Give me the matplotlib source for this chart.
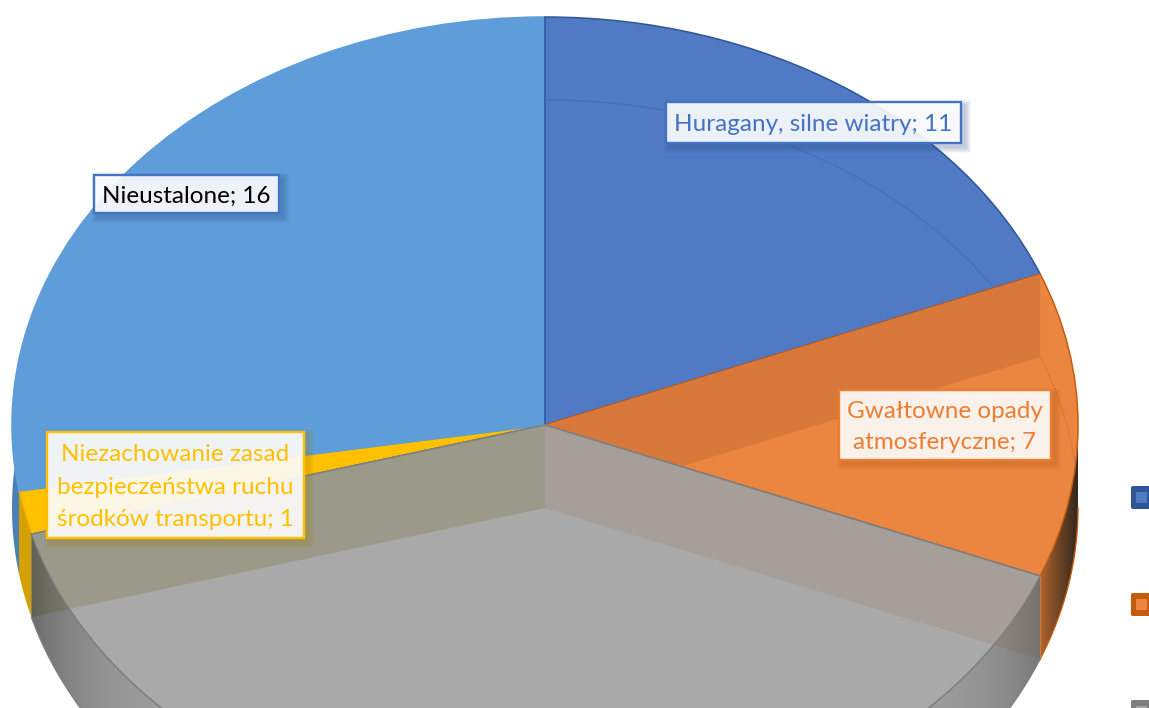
import numpy as np
import matplotlib
matplotlib.use("Agg")
import matplotlib.pyplot as plt
from matplotlib.patches import Polygon, Rectangle, FancyBboxPatch
from matplotlib.colors import to_rgb

# ---- data
categories = ["Huragany, silne wiatry", "Gwałtowne opady atmosferyczne", "Inne",
              "Niezachowanie zasad bezpieczeństwa ruchu środków transportu", "Nieustalone"]
values = [11, 7, 23, 1, 16]
face_colors = ["#507BC4", "#EA863F", "#A9A9A9", "#FFC000", "#5E9DD9"]
edge_colors = ["#2F5597", "#C55A11", "#7F7F7F", "#E0A800", "#5E9DD9"]
face_order = [3.1, 3.2, 3.3, 3.0, 3.0]

label_texts = ["Huragany, silne wiatry; 11", "Gwałtowne opady\natmosferyczne; 7",
               "Niezachowanie zasad\nbezpieczeństwa ruchu\nśrodków transportu; 1", "Nieustalone; 16"]
label_colors = ["#4472C4", "#ED7D31", "#FFC000", "#000000"]
label_edges = ["#4472C4", "#ED7D31", "#FFC000", "#4472C4"]
label_shadows = ["#2A4A85", "#A8561E", "#A88000", "#2A4A85"]
label_spacing = [1.0, 1.58, 1.68, 1.0]
label_boxes = [(666, 102, 961, 143), (839, 390, 1051, 460), (47, 432, 304, 538), (94, 175, 279, 213)]

W, H = 1149, 708
CX, CY, RX, RY = 545.0, 425.0, 533.0, 408.0
DEPTH = 83.0 / RY

fig = plt.figure(figsize=(W / 100, H / 100), dpi=100)
ax = fig.add_axes([0, 0, 1, 1])
wedges, _ = ax.pie(values, startangle=90, counterclock=False, radius=1, colors=face_colors,
                   wedgeprops=dict(linewidth=1.1))
for w, e, z in zip(wedges, edge_colors, face_order):
    w.set_edgecolor(e)
    w.set_zorder(z)
XLIM = (-CX / RX, (W - CX) / RX)
YLIM = ((CY - H) / RY, CY / RY)

# slice boundaries, clockwise from 12 o'clock
bounds = np.concatenate([[0], np.cumsum(values)]) / np.sum(values) * 360.0
b1, b2, b3, b4 = bounds[1], bounds[2], bounds[3], bounds[4]


def rim(t1, t2, drop=0.0, n=200):
    t = np.radians(np.linspace(t1, t2, n))
    return np.column_stack([np.sin(t), np.cos(t) - drop])


def band(t1, t2):
    return np.vstack([rim(t1, t2), rim(t1, t2, DEPTH)[::-1]])


def inner(t):
    p = rim(t, t, n=1)
    return np.vstack([[[0, 0]], p, p - [0, DEPTH], [[0, -DEPTH]]])


xs = np.linspace(XLIM[0], XLIM[1], W)[None, :]


def gradient(rgba, clip_xy, z):
    im = ax.imshow(rgba, extent=(XLIM[0], XLIM[1], YLIM[0], YLIM[1]), aspect="auto",
                   interpolation="bilinear", zorder=z)
    im.set_clip_path(Polygon(clip_xy, closed=True, transform=ax.transData))


# outer walls behind the faces
ax.add_patch(Polygon(band(b4, 300), closed=True, fc="#4A7FB5", ec="none", zorder=2))
ax.add_patch(Polygon(band(b3, b4), closed=True, fc="#D4A000", ec="none", zorder=2.1))

c0, c1 = np.array(to_rgb("#B5682C")), np.array(to_rgb("#33281E"))
edge_x = np.sin(np.radians(180 - b2))
f = np.clip((np.abs(xs) - edge_x) / (1 - edge_x), 0, 1) ** 0.9
orange_rgba = np.dstack([c0[i] + (c1[i] - c0[i]) * f for i in range(3)] + [np.ones_like(xs)])
gradient(orange_rgba, band(90, b2), 2.2)
ax.plot(*rim(90, b2, DEPTH).T, color="#C55A11", lw=1, zorder=2.3)
p = rim(b2, b2, n=1)[0]
ax.plot([p[0], p[0]], [p[1], p[1] - DEPTH], color="#D5752E", lw=1, zorder=2.3)

# walls seen through the translucent faces
back = Polygon(inner(b1), closed=True, fc="#D8783A", ec="none", zorder=3.25)
ax.add_patch(back)
back.set_clip_path(wedges[1])
blue_arc, = ax.plot(*rim(0, b1, DEPTH).T, color="#4470B8", lw=1, zorder=3.15)
blue_arc.set_clip_path(wedges[0])
orange_arc, = ax.plot(*rim(b1, b2, DEPTH).T, color="#DC7A38", lw=1, zorder=3.26)
orange_arc.set_clip_path(wedges[1])

# gray slice: base band, inner walls, shaded outer wall
ax.add_patch(Polygon(band(b2, b3), closed=True, fc="#A9A9A9", ec="none", zorder=3.3))
ax.add_patch(Polygon(inner(b2), closed=True, fc="#A69E98", ec="none", zorder=3.4))
ax.add_patch(Polygon(inner(b3), closed=True, fc="#9B9A8A", ec="none", zorder=3.4))
alpha = 0.04 + 0.45 * np.abs(xs) ** 8
gradient(np.dstack([np.zeros_like(xs)] * 3 + [alpha]), band(b2, b3), 3.5)
ax.plot(*rim(b2, b3).T, color="#7F7F7F", lw=1, zorder=3.6)
ax.plot(*rim(b2, b3, DEPTH).T, color="#7F7F7F", lw=1, zorder=3.6)
for b in (b2, b3):
    ax.plot(*np.vstack([[0, 0], rim(b, b, n=1)]).T, color="#7F7F7F", lw=1.1, zorder=3.6)

ax.set_aspect("auto")
ax.set_xlim(XLIM)
ax.set_ylim(YLIM)
ax.axis("off")

# ---- overlay in image pixels: labels and legend swatches
ov = fig.add_axes([0, 0, 1, 1], facecolor="none")
ov.set_xlim(0, W)
ov.set_ylim(H, 0)
ov.axis("off")

for txt, col, ecol, scol, sp, (x0, y0, x1, y1) in zip(label_texts, label_colors, label_edges,
                                                      label_shadows, label_spacing, label_boxes):
    for g in range(6, 0, -1):
        ov.add_patch(Rectangle((x0 + 4 - g, y0 + 4 - g), x1 - x0 + 2 * g, y1 - y0 + 2 * g,
                               fc=scol, ec="none", alpha=0.05, zorder=5))
    ov.add_patch(Rectangle((x0, y0), x1 - x0, y1 - y0, fc="white", ec="none", alpha=0.9, zorder=6))
    ov.add_patch(Rectangle((x0, y0), x1 - x0, y1 - y0, fc="none", ec=ecol, lw=1.7, zorder=7))
    ov.text((x0 + x1) / 2, (y0 + y1) / 2 + 2, txt, color=col, ha="center", va="center",
            family="Lato", fontsize=17.5, linespacing=sp, zorder=8)

swatches = [("#2F5597", "#4F7BC4", 486), ("#C55A11", "#EA863F", 593), ("#7F7F7F", "#A5A5A5", 700)]
for outer_c, inner_c, top in swatches:
    ov.add_patch(FancyBboxPatch((1132, top + 1), 30, 21, boxstyle="round,pad=1,rounding_size=2",
                                fc=outer_c, ec="none", zorder=4))
    ov.add_patch(Rectangle((1136, top + 6), 11, 11, fc=inner_c, ec="none", zorder=4.1))

fig.savefig("out.png", dpi=100)
